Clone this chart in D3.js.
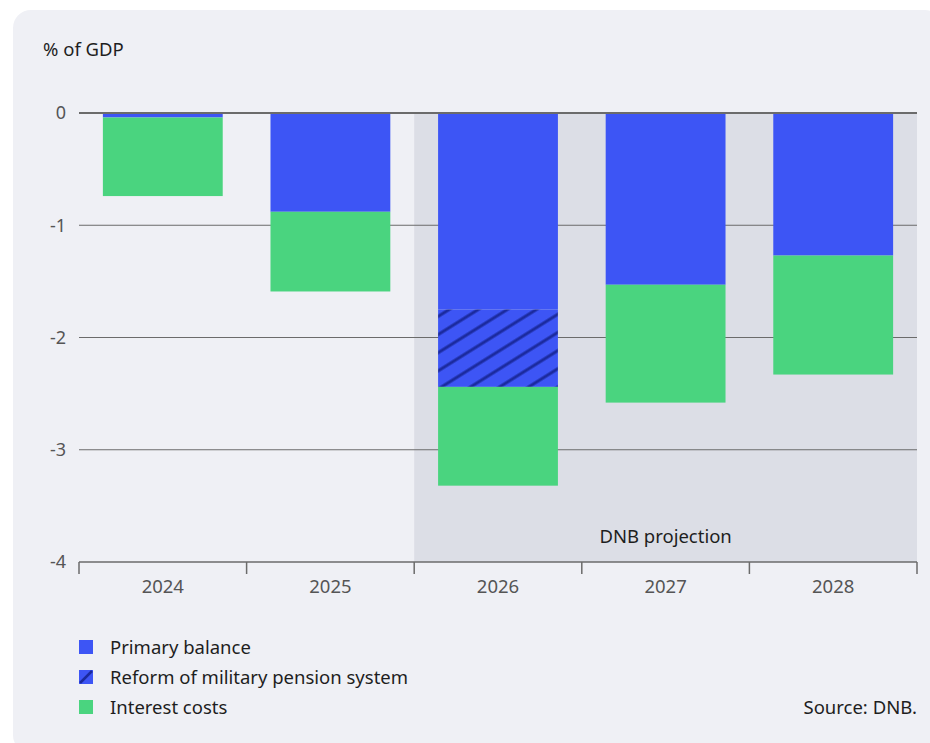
<!DOCTYPE html>
<html>
<head>
<meta charset="utf-8">
<script src="https://cdn.jsdelivr.net/npm/d3@7"></script>
<style>
  body { margin: 0; background: #fff; }
  svg { display: block; font-family: "Noto Sans", sans-serif; }
</style>
</head>
<body>
<svg id="chart"></svg>
<script>
// data
const years = ["2024", "2025", "2026", "2027", "2028"];
const primaryBalance = [-0.04, -0.88, -1.75, -1.53, -1.27];
const pensionReform = [0, 0, -0.69, 0, 0];
const interestCosts = [-0.70, -0.71, -0.88, -1.05, -1.06];
const yTicks = [0, -1, -2, -3, -4];
const projectionYears = ["2026", "2027", "2028"];

const width = 930, height = 743;
const margin = {top: 113, right: 13, bottom: 181, left: 79};

const svg = d3.select('#chart')
    .attr('width', width)
    .attr('height', height);

// panel
svg.append('rect')
    .attr('x', 13).attr('y', 10)
    .attr('width', width).attr('height', height)
    .attr('rx', 18)
    .attr('fill', '#eff0f5');

const defs = svg.append('defs');
defs.append('pattern')
    .attr('id', 'hatch')
    .attr('patternUnits', 'userSpaceOnUse')
    .attr('width', 16).attr('height', 15.4)
    .attr('patternTransform', 'rotate(-32)')
    .call(p => {
        p.append('rect').attr('width', 16).attr('height', 15.4).attr('fill', '#3d55f5');
        p.append('line').attr('x1', 0).attr('x2', 16).attr('y1', 7.7).attr('y2', 7.7)
            .attr('stroke', '#1b2a9e').attr('stroke-width', 3);
    });

const x = d3.scaleBand()
    .domain(years)
    .range([margin.left, width - margin.right])
    .paddingInner(0.285)
    .paddingOuter(0.1425);

const y = d3.scaleLinear()
    .domain([0, -4])
    .range([margin.top, height - margin.bottom]);

const step = x.step();
const bandStart = d => x(d) - x.paddingInner() * step / 2;

// projection shading
svg.append('rect')
    .attr('x', bandStart(projectionYears[0]))
    .attr('y', y(0))
    .attr('width', (width - margin.right) - bandStart(projectionYears[0]))
    .attr('height', y(-4) - y(0))
    .attr('fill', '#dcdee6');

svg.append('text')
    .attr('x', (bandStart(projectionYears[0]) + width - margin.right) / 2)
    .attr('y', y(-3.77))
    .attr('dy', '0.35em')
    .attr('text-anchor', 'middle')
    .attr('font-size', 18.5)
    .attr('fill', '#1e1e1e')
    .text('DNB projection');

// gridlines
svg.append('g')
    .selectAll('line')
    .data(yTicks.slice(1, 4))
    .join('line')
    .attr('x1', margin.left).attr('x2', width - margin.right)
    .attr('y1', d => y(d)).attr('y2', d => y(d))
    .attr('stroke', '#6b6b6b').attr('stroke-width', 1);

// stacked bars
const stacks = years.map((yr, i) => {
    const a = primaryBalance[i];
    const b = a + pensionReform[i];
    const c = b + interestCosts[i];
    return {yr, segs: [
        {y0: 0, y1: a, fill: '#3d55f5'},
        {y0: a, y1: b, fill: 'url(#hatch)'},
        {y0: b, y1: c, fill: '#4ad47f'}
    ]};
});

svg.append('g')
    .selectAll('g')
    .data(stacks)
    .join('g')
    .selectAll('rect')
    .data(d => d.segs.map(s => Object.assign({yr: d.yr}, s)))
    .join('rect')
    .attr('x', d => x(d.yr))
    .attr('width', x.bandwidth())
    .attr('y', d => y(d.y0))
    .attr('height', d => y(d.y1) - y(d.y0))
    .attr('fill', d => d.fill);

// zero line
svg.append('line')
    .attr('x1', margin.left).attr('x2', width - margin.right)
    .attr('y1', y(0)).attr('y2', y(0))
    .attr('stroke', '#6b6b6b').attr('stroke-width', 2);

// y labels
svg.append('g')
    .selectAll('text')
    .data(yTicks)
    .join('text')
    .attr('x', 66)
    .attr('y', d => y(d))
    .attr('dy', '0.35em')
    .attr('text-anchor', 'end')
    .attr('font-size', 18)
    .attr('fill', '#555')
    .text(d => d);

svg.append('text')
    .attr('x', 43).attr('y', 56)
    .attr('font-size', 18.5)
    .attr('fill', '#1e1e1e')
    .text('% of GDP');

// x axis
const xAxis = svg.append('g')
    .attr('transform', `translate(0,${y(-4)})`);
xAxis.append('line')
    .attr('x1', margin.left).attr('x2', width - margin.right)
    .attr('stroke', '#6b6b6b').attr('stroke-width', 1.5);
const bounds = years.map(bandStart).concat([width - margin.right]);
bounds[0] = margin.left;
xAxis.selectAll('.tick')
    .data(bounds)
    .join('line')
    .attr('x1', d => d).attr('x2', d => d)
    .attr('y1', 0).attr('y2', 12)
    .attr('stroke', '#6b6b6b').attr('stroke-width', 1.5);
xAxis.selectAll('text')
    .data(years)
    .join('text')
    .attr('x', d => x(d) + x.bandwidth() / 2)
    .attr('y', 31)
    .attr('text-anchor', 'middle')
    .attr('font-size', 18.5)
    .attr('fill', '#555')
    .text(d => d);

// legend
const legendItems = [
    {label: 'Primary balance', fill: '#3d55f5'},
    {label: 'Reform of military pension system', fill: '#3d55f5', hatch: true},
    {label: 'Interest costs', fill: '#4ad47f'}
];
const legend = svg.append('g')
    .selectAll('g')
    .data(legendItems)
    .join('g')
    .attr('transform', (d, i) => `translate(79,${640 + i * 30})`);
legend.append('rect')
    .attr('width', 14).attr('height', 14)
    .attr('fill', d => d.fill);
legend.filter(d => d.hatch)
    .append('line')
    .attr('x1', 1).attr('y1', 13).attr('x2', 13).attr('y2', 1)
    .attr('stroke', '#1b2a9e').attr('stroke-width', 2.5);
legend.append('text')
    .attr('x', 31).attr('y', 7)
    .attr('dy', '0.36em')
    .attr('font-size', 18.5)
    .attr('fill', '#1e1e1e')
    .text(d => d.label);

svg.append('text')
    .attr('x', width - margin.right).attr('y', 714)
    .attr('text-anchor', 'end')
    .attr('font-size', 18.5)
    .attr('fill', '#1e1e1e')
    .text('Source: DNB.');
</script>
</body>
</html>
